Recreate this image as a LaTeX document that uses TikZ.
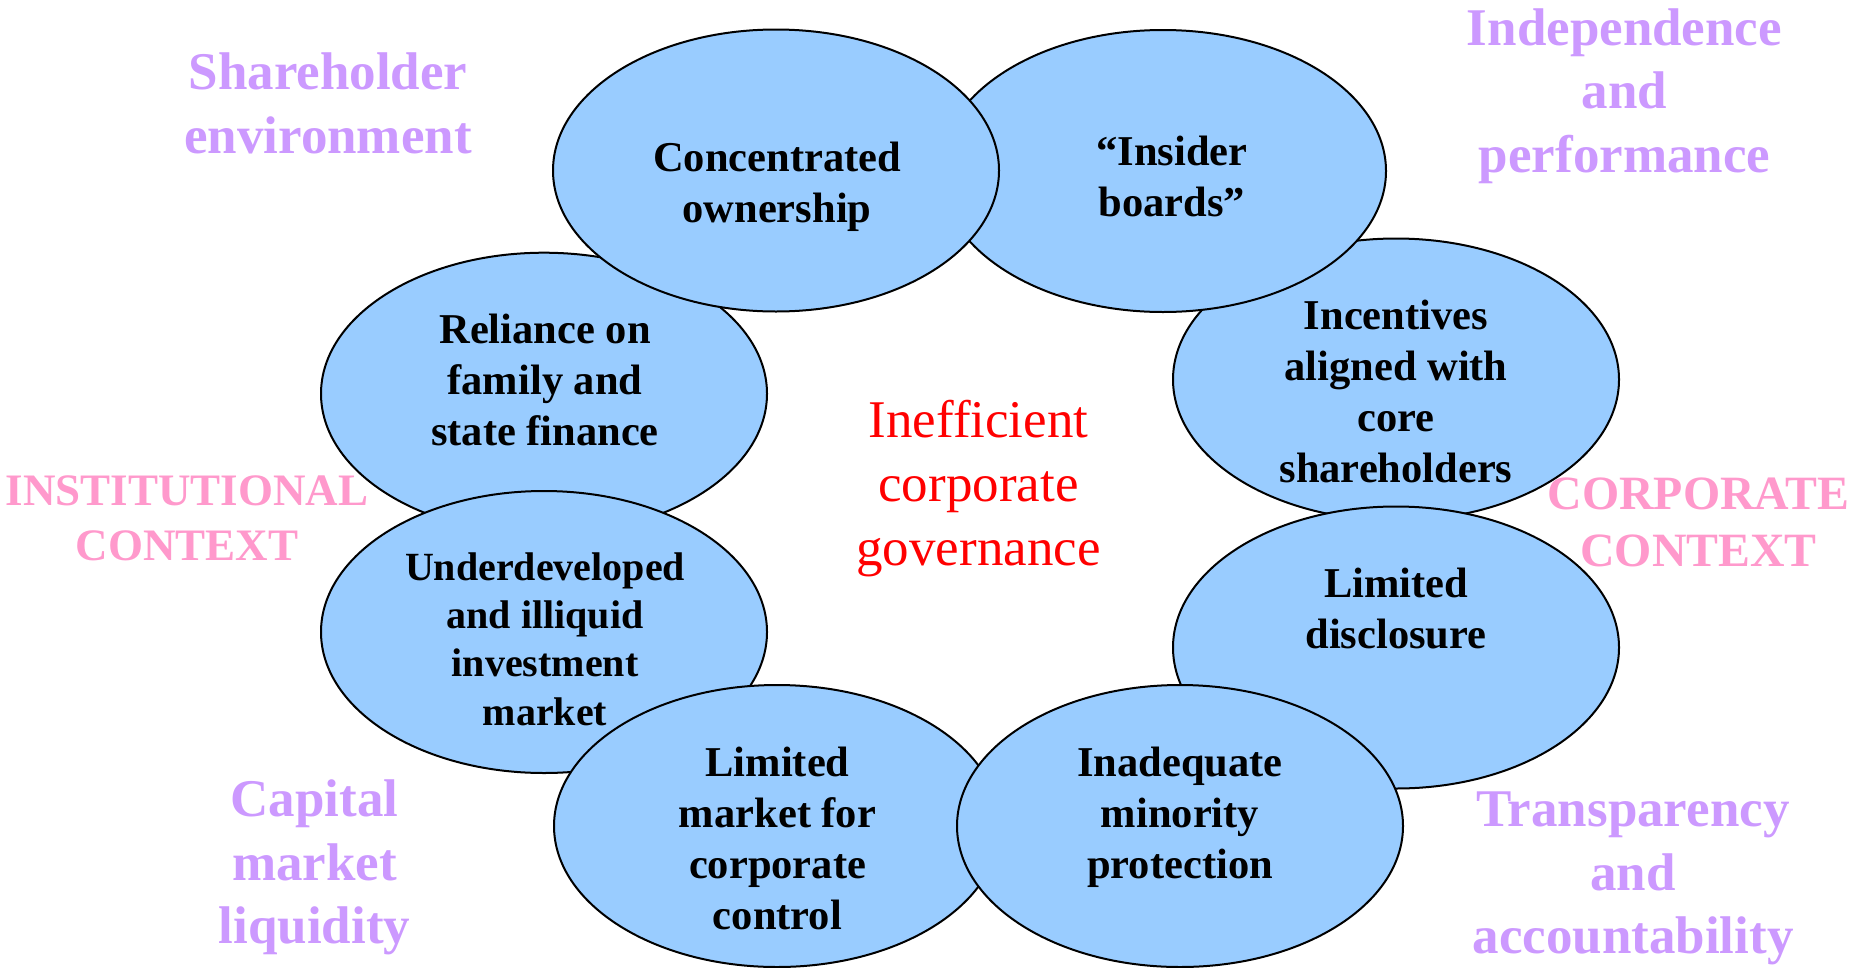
\documentclass[tikz,border=0pt]{standalone}
\usepackage{fontspec}
\setmainfont{Liberation Serif}
\usetikzlibrary{shapes.geometric}
\definecolor{ellfill}{HTML}{99CCFF}
\definecolor{lilac}{HTML}{CC99FF}
\definecolor{pinkc}{HTML}{FF99CC}
\definecolor{redc}{HTML}{FF0000}
\begin{document}
\begin{tikzpicture}[x=1pt,y=-1pt,
  ell/.style={ellipse, draw=black, line width=2pt, fill=ellfill,
    minimum width=446pt, minimum height=282pt, inner sep=0pt},
  etext/.style={align=center, inner sep=0pt,
    font=\fontsize{42.5}{51}\selectfont\bfseries},
  etextsmall/.style={align=center, inner sep=0pt,
    font=\fontsize{40}{48.3}\selectfont\bfseries},
  lilaclabel/.style={align=center, inner sep=0pt, text=lilac,
    font=\fontsize{53}{63.5}\selectfont\bfseries},
  pinklabel/.style={align=center, inner sep=0pt, text=pinkc,
    font=\fontsize{45}{55}\selectfont\bfseries},
  pinklabelbig/.style={align=center, inner sep=0pt, text=pinkc,
    font=\fontsize{47.8}{57}\selectfont\bfseries},
  centerlabel/.style={align=center, inner sep=0pt, text=redc,
    font=\fontsize{53}{64}\selectfont}]
\useasboundingbox (0,0) rectangle (1865,967);
\fill[white] (0,0) rectangle (1865,967);

% ellipses in stacking order
\node[ell] (incentives) at (1396,379.5) {};
\node[ell] (disclosure) at (1396,647.5) {};
\node[ell] (reliance) at (544,393.7) {};
\node[ell] (underdev) at (544,632) {};
\node[ell] (marketctl) at (777,826) {};
\node[ell] (minority) at (1180,826) {};
\node[ell] (insider) at (1163,171) {};
\node[ell] (concentrated) at (776,170.5) {};

% ellipse texts
\node[etext] (tconc) at (777,186.5) {Concentrated\\ownership};
\node[etext] (tins) at (1172,176.5) {“Insider\\boards”};
\node[etext] (trel) at (545,380) {Reliance on\\family and\\state finance};
\node[etext] (tinc) at (1396,391) {Incentives\\aligned with\\core\\shareholders};
\node[etext] (tdis) at (1396,609) {Limited\\disclosure};
\node[etextsmall] (tund) at (545,639) {Underdeveloped\\and illiquid\\investment\\market};
\node[etext] (tmkt) at (777.5,838.5) {Limited\\market for\\corporate\\control};
\node[etext] (tmin) at (1180,817.5) {Inadequate\\minority\\protection};

% center
\node[centerlabel] (center) at (978.5,489) {Inefficient\\corporate\\governance};

% outer labels
\node[lilaclabel] (lshare) at (328,103.5) {Shareholder\\environment};
\node[lilaclabel] (lindep) at (1624.5,96) {Independence\\and\\performance};
\node[lilaclabel] (lcap) at (314.5,867.5) {Capital\\market\\liquidity};
\node[lilaclabel] (ltrans) at (1633,878.5) {Transparency\\and\\accountability};
\node[pinklabel] (linst) at (187,518) {INSTITUTIONAL\\CONTEXT};
\node[pinklabelbig] (lcorp) at (1698.5,522) {CORPORATE\\CONTEXT};
\end{tikzpicture}
\end{document}
